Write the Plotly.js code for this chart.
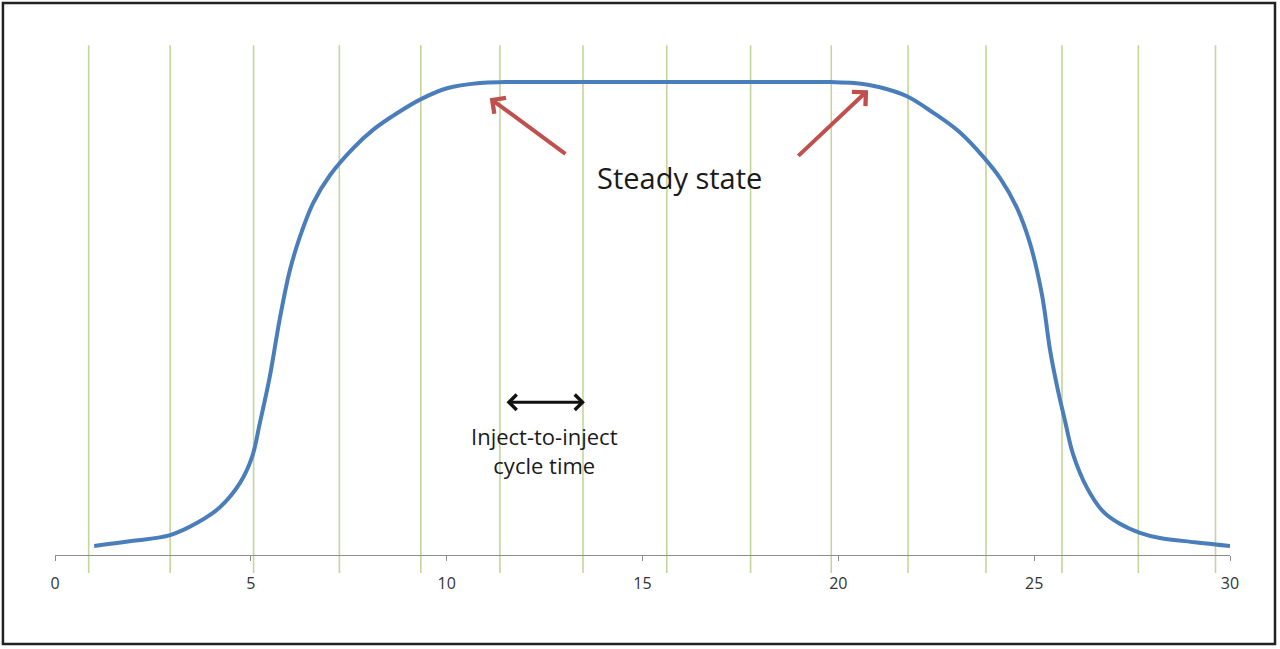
<!DOCTYPE html>
<html>
<head>
<meta charset="utf-8">
<script src="https://cdn.plot.ly/plotly-3.0.1.min.js"></script>
<style>
  html, body { margin: 0; padding: 0; background: #ffffff; }
  #chart { width: 1280px; height: 649px; }
</style>
</head>
<body>
<div id="chart"></div>
<script>
// Dữ liệu đường cong (thời gian - tín hiệu)
var time_values = [1.0, 2.0, 2.94, 3.63, 4.21, 4.72, 5.03, 5.23, 5.49, 5.74, 6.0, 6.25, 6.59, 7.02, 7.61,
                   8.12, 8.73, 9.32, 10.01, 10.85, 11.5, 15.0, 19.0, 19.8, 20.4, 21.06, 21.75, 22.41,
                   23.1, 23.69, 24.13, 24.56, 24.89, 25.2, 25.41, 25.61, 25.79, 25.99, 26.35, 26.75,
                   27.19, 27.7, 28.21, 29.1, 30.0];
var signal_values = [1.9, 3.0, 4.2, 6.8, 10.1, 15.2, 20.7, 27.9, 38.0, 50.0, 60.3, 67.2, 74.4, 80.3, 86.0,
                     89.9, 93.4, 96.3, 98.7, 99.8, 100, 100, 100, 100, 99.8, 98.9, 97.0, 93.6,
                     89.4, 84.3, 79.7, 73.4, 66.0, 55.0, 43.1, 34.7, 28.3, 21.4, 14.2, 9.3,
                     6.6, 4.7, 3.6, 2.7, 1.9];

// Vị trí các lần inject (đường dọc màu xanh)
var inject_times = [0.86, 2.94, 5.07, 7.26, 9.34, 11.36, 13.48, 15.62, 17.76, 19.82, 21.78, 23.77, 25.71, 27.66, 29.63];

// Nhãn trục x
var tick_values = [0, 5, 10, 15, 20, 25, 30];
var tick_labels = ['0', '5', '10', '15', '20', '25', '30'];

// Vị trí chú thích
var steady_left = {head: [11.1, 96.6], tail: [13.07, 84.6]};
var steady_right = {head: [20.76, 98.3], tail: [18.94, 84.1]};
var cycle_span = [11.49, 13.53];
var cycle_level = 32.3;

var textFont = '"Open Sans", "Noto Sans", sans-serif';

var trace = {
    x: time_values,
    y: signal_values,
    type: 'scatter',
    mode: 'lines',
    line: {color: '#4a7ebb', width: 4, shape: 'spline', smoothing: 1},
    hoverinfo: 'skip'
};

// Các đường dọc
var shapes = inject_times.map(function(t){
    return {
        type: 'line', xref: 'x', yref: 'paper',
        x0: t, x1: t, y0: -0.035, y1: 0.99,
        line: {color: '#c3d69b', width: 1.6},
        layer: 'below'
    };
});

// Khung viền ngoài
shapes.push({
    type: 'rect', xref: 'paper', yref: 'paper',
    x0: -0.0443, x1: 1.0383, y0: -0.1728, y1: 1.0718,
    line: {color: '#222222', width: 2.5},
    fillcolor: 'rgba(0,0,0,0)'
});

var annotations = [
    {
        x: steady_left.head[0], y: steady_left.head[1],
        ax: steady_left.tail[0], ay: steady_left.tail[1],
        axref: 'x', ayref: 'y', xref: 'x', yref: 'y',
        text: '', showarrow: true, arrowhead: 4, arrowsize: 0.95,
        arrowwidth: 4, arrowcolor: '#c0504d'
    },
    {
        x: steady_right.head[0], y: steady_right.head[1],
        ax: steady_right.tail[0], ay: steady_right.tail[1],
        axref: 'x', ayref: 'y', xref: 'x', yref: 'y',
        text: '', showarrow: true, arrowhead: 4, arrowsize: 0.95,
        arrowwidth: 4, arrowcolor: '#c0504d'
    },
    {
        x: 15.95, y: 79.8, xref: 'x', yref: 'y',
        text: 'Steady state', showarrow: false,
        font: {family: textFont, size: 29, color: '#1a1a1a'}
    },
    {
        x: cycle_span[1], y: cycle_level,
        ax: cycle_span[0], ay: cycle_level,
        axref: 'x', ayref: 'y', xref: 'x', yref: 'y',
        text: '', showarrow: true, arrowhead: 4, startarrowhead: 4,
        arrowside: 'end+start', arrowsize: 1, startarrowsize: 1,
        arrowwidth: 3, arrowcolor: '#111111'
    },
    {
        x: 12.49, y: 22.2, xref: 'x', yref: 'y',
        text: 'Inject-to-inject<br>cycle time', showarrow: false,
        align: 'center',
        font: {family: textFont, size: 22, color: '#1a1a1a'}
    }
];

var layout = {
    width: 1280,
    height: 649,
    margin: {l: 55, r: 50, t: 40, b: 94},
    paper_bgcolor: '#ffffff',
    plot_bgcolor: '#ffffff',
    showlegend: false,
    xaxis: {
        range: [0, 30],
        tickvals: tick_values,
        ticktext: tick_labels,
        showgrid: false,
        zeroline: false,
        showline: true,
        linecolor: '#8c8c8c',
        linewidth: 1.2,
        ticks: 'outside',
        ticklen: 5,
        tickcolor: '#8c8c8c',
        ticklabelstandoff: 9,
        tickfont: {family: textFont, size: 16, color: '#333333'},
        fixedrange: true
    },
    yaxis: {
        range: [0, 108.9],
        visible: false,
        showgrid: false,
        zeroline: false,
        fixedrange: true
    },
    shapes: shapes,
    annotations: annotations
};

Plotly.newPlot('chart', [trace], layout, {displayModeBar: false, staticPlot: true});
</script>
</body>
</html>
